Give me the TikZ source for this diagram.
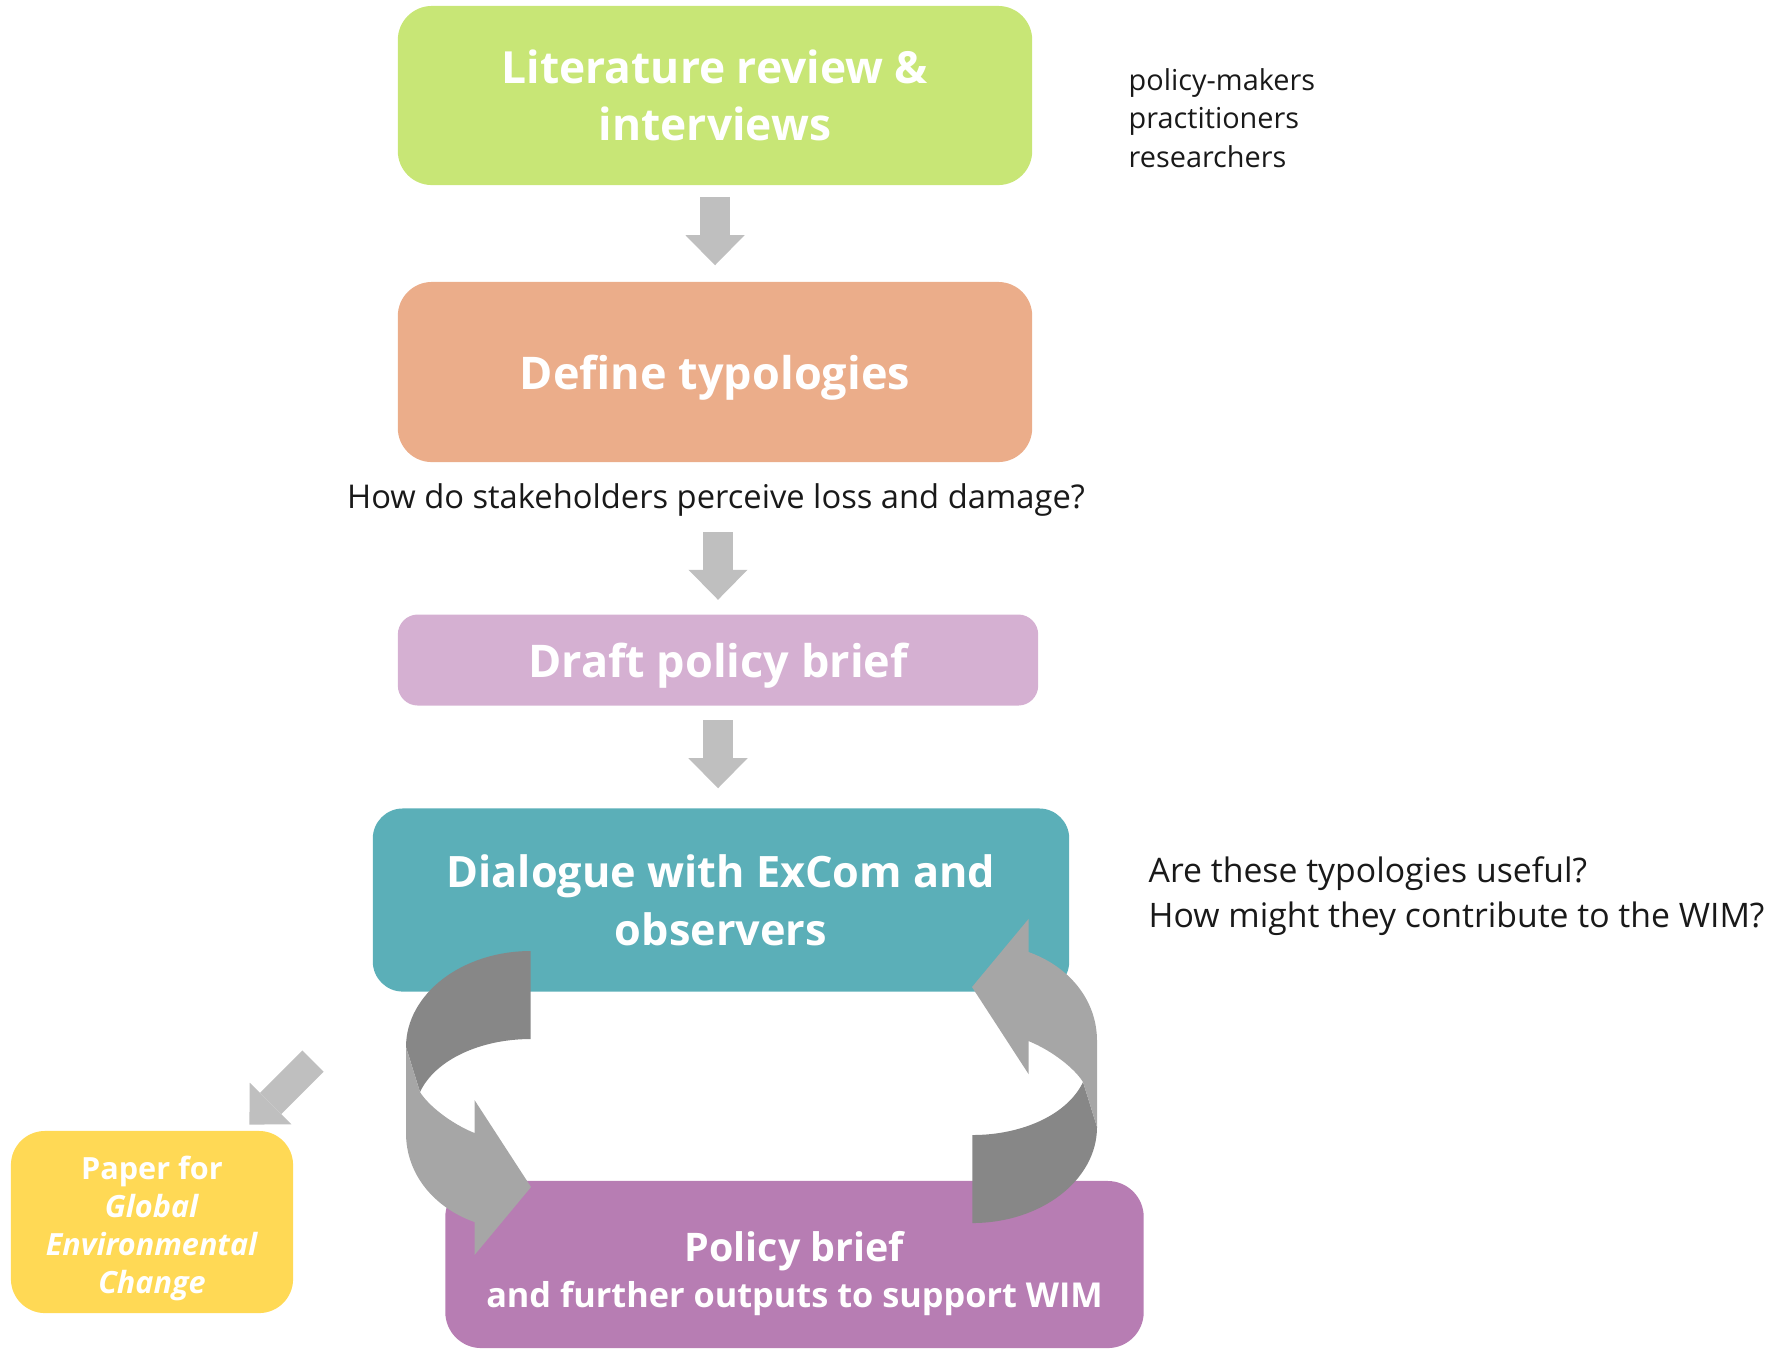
\documentclass[tikz,border=0pt]{standalone}
\usepackage{fontspec}
\setmainfont{Open Sans}
\usetikzlibrary{positioning, arrows.meta}

\definecolor{litgreen}{HTML}{C8E676}
\definecolor{typorange}{HTML}{EBAD8A}
\definecolor{draftpink}{HTML}{D5B0D2}
\definecolor{dialogteal}{HTML}{5BAFB8}
\definecolor{briefpurple}{HTML}{B77DB3}
\definecolor{paperyellow}{HTML}{FFD955}
\definecolor{arrowgray}{HTML}{BFBFBF}
\definecolor{cycledark}{HTML}{878787}
\definecolor{cyclelight}{HTML}{A6A6A6}

\newcommand{\fsize}[2]{\fontsize{#1}{#2}\selectfont}

\begin{document}
\begin{tikzpicture}[x=0.01cm, y=-0.01cm,
  box/.style={rectangle, rounded corners=0.34cm, inner sep=0pt, align=center, text=white, text depth=0pt},
  title/.style={font=\fsize{12.8}{16.2}\bfseries},
  note/.style={inner sep=0pt, align=left, text=black!90},
  blockarrow/.style={color=arrowgray, line width=0.3cm, -{Triangle[width=0.59cm, length=0.3cm, line width=0pt]}},
]
\useasboundingbox (0,0) rectangle (1783,1350);

% main column
\node[box, title, fill=litgreen, minimum width=6.34cm, minimum height=1.79cm, font=\fsize{12.6}{16.2}\bfseries] (lit) at (715,95.5) {Literature review \&\\interviews};
\node[box, title, fill=typorange, minimum width=6.34cm, minimum height=1.80cm] (typ) at (715,372) {Define typologies};
\node[inner sep=0pt, text=black!90, font=\fsize{9.3}{11}] (question) at (716,500) {How do stakeholders perceive loss and damage?};
\node[box, title, fill=draftpink, rounded corners=0.2cm, minimum width=6.40cm, minimum height=0.91cm] (draft) at (718,660) {Draft policy brief};
\node[box, title, fill=dialogteal, rounded corners=0.3cm, minimum width=6.96cm, minimum height=1.83cm, font=\fsize{12.3}{16.5}\bfseries] (dialogue) at (721,900) {Dialogue with ExCom and\\observers};
\node[box, fill=briefpurple, rounded corners=0.36cm, minimum width=6.98cm, minimum height=1.67cm, text height=24.3pt, font=\fsize{9.75}{13}\bfseries] (brief) at (794.5,1264.5) {{\fsize{11.2}{13}Policy brief}\\and further outputs to support WIM};
\node[box, fill=paperyellow, minimum width=2.82cm, minimum height=1.82cm, text height=40.8pt, font=\fsize{8.7}{10.8}\bfseries] (paper) at (152,1222) {Paper for\\\textit{Global}\\\textit{Environmental}\\\textit{Change}};

% side notes
\node[note, anchor=west, font=\fsize{8.2}{10.9}] (people) at (1128,118) {policy-makers\\practitioners\\researchers};
\node[note, anchor=west, font=\fsize{9.6}{12.8}] (useful) at (1148,896) {Are these typologies useful?\\How might they contribute to the WIM?};

\path
  (lit.south) edge[blockarrow, shorten <=0.11cm, shorten >=0.16cm] (lit.south |- typ.north)
  (draft.north |- question.south) edge[blockarrow, shorten <=0.15cm, shorten >=0.14cm] (draft.north)
  (draft.south) edge[blockarrow, shorten <=0.14cm, shorten >=0.195cm] (draft.south |- dialogue.north);

\coordinate (papertail) at (313,1061);
\draw[blockarrow, shorten >=0.08cm] (papertail) -- (paper);

% feedback loop between dialogue and brief
\foreach \turn in {0,180} {
  \begin{scope}[rotate around={\turn:(751.5,1087)}]
    \fill[cycledark] (530.7,951) .. controls (461.9,951) and (406,994) .. (406,1047)
      -- (420,1092) .. controls (435,1060) and (480,1039) .. (530.7,1039) -- cycle;
    \fill[cyclelight] (406,1047) -- (406,1133) .. controls (406,1175) and (435,1208) .. (474.5,1222)
      -- (474.5,1255) -- (531,1187) -- (474.5,1100) -- (474.5,1133)
      .. controls (450,1123) and (428,1105) .. (420,1092) -- cycle;
  \end{scope}
}
\end{tikzpicture}
\end{document}
